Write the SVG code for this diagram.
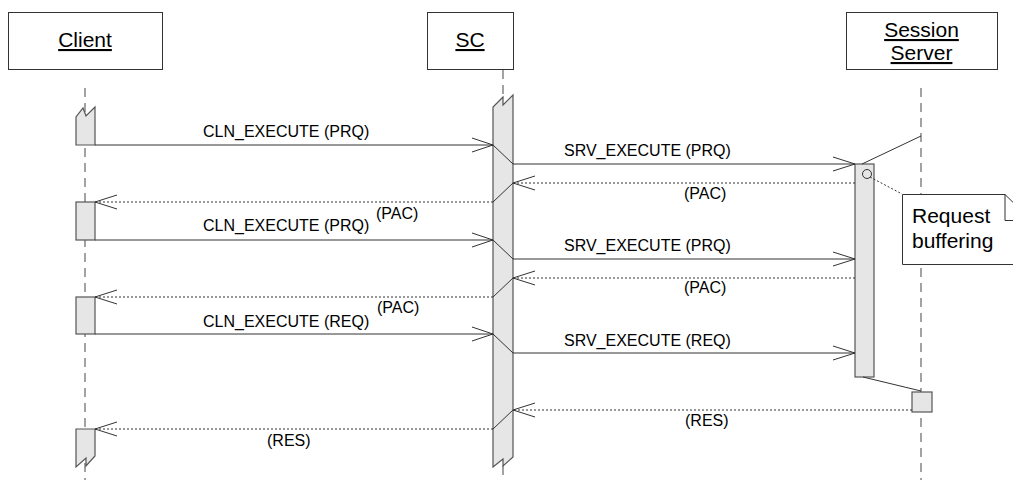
<svg xmlns="http://www.w3.org/2000/svg" width="1013" height="480" viewBox="0 0 1013 480">
<style>
text{font-family:"Liberation Sans",Arial,sans-serif;fill:#000}
.hd{font-size:21px;text-anchor:middle;text-decoration:underline}
.lb{font-size:16px}
.box{fill:#fff;stroke:#333;stroke-width:1}
.life{stroke:#666;stroke-width:1.2;stroke-dasharray:9 6;fill:none}
.act{fill:#e6e6e6;stroke:#555;stroke-width:1.2}
.msg{stroke:#333;stroke-width:1;fill:none}
.ret{stroke:#333;stroke-width:1;stroke-dasharray:2 2;fill:none}
.ah{stroke:#333;stroke-width:1;fill:none}
</style>
<rect width="1013" height="480" fill="#fff"/>
<g id="client">
<rect class="box" x="8.5" y="12.5" width="154" height="57"/>
<text class="hd" x="85" y="47">Client</text>
<line class="life" x1="85" y1="88" x2="85" y2="480"/>
<path class="act" d="M76,145 V117 L83,108 L86,116 L95,107 V145 Z"/>
<rect class="act" x="76" y="202" width="19" height="38"/>
<rect class="act" x="76" y="297" width="19" height="37"/>
<path class="act" d="M76,429 H95 V456 L86,466 L86,458 L76,467 Z"/>
</g>
<g id="sc">
<rect class="box" x="427.5" y="12.5" width="86" height="57"/>
<text class="hd" x="470" y="47">SC</text>
<line class="life" x1="503" y1="70" x2="503" y2="97"/>
<line class="life" x1="503" y1="466" x2="503" y2="480"/>
<path class="act" d="M493,467 V107 L503,97 L503,105 L513,95 V457 L503,466 L503,459 Z"/>
</g>
<g id="session-server">
<rect class="box" x="846.5" y="12.5" width="151" height="57"/>
<text class="hd" x="921.5" y="37">Session</text>
<text class="hd" x="921.5" y="60">Server</text>
<line class="life" x1="921" y1="88" x2="921" y2="480"/>
<rect class="act" x="855" y="164" width="19" height="213"/>
<rect class="act" x="912" y="392" width="20" height="20"/>
<circle cx="867" cy="174" r="4.5" fill="none" stroke="#333" stroke-width="1"/>
</g>
<g id="note">
<line x1="870" y1="177" x2="902" y2="194" stroke="#333" stroke-width="1" stroke-dasharray="2 2"/>
<path d="M902.5,194.5 H1005 L1031,220 V264.5 H902.5 Z" fill="#fff" stroke="#333" stroke-width="1"/>
<path d="M1005,194.5 V220.5 H1031" fill="none" stroke="#333" stroke-width="1"/>
<text x="912" y="223" font-size="21">Request</text>
<text x="912" y="248" font-size="21">buffering</text>
</g>
<g id="connectors">
<!-- round 1 -->
<line class="msg" x1="95" y1="145" x2="493" y2="145"/>
<path class="ah" d="M472,138 L493,145 L472,152"/>
<line class="msg" x1="493" y1="145" x2="513" y2="164"/>
<line class="msg" x1="513" y1="164" x2="855" y2="164"/>
<path class="ah" d="M833,157 L855,164 L833,171"/>
<line class="msg" x1="862" y1="164" x2="921" y2="136"/>
<line class="ret" x1="855" y1="183" x2="513" y2="183"/>
<path class="ah" d="M535,176 L513,183 L535,190"/>
<line class="msg" x1="513" y1="183" x2="493" y2="202"/>
<line class="ret" x1="493" y1="202" x2="95" y2="202"/>
<path class="ah" d="M117,195 L95,202 L117,209"/>
<!-- round 2 -->
<line class="msg" x1="95" y1="240" x2="493" y2="240"/>
<path class="ah" d="M472,233 L493,240 L472,247"/>
<line class="msg" x1="493" y1="240" x2="513" y2="259"/>
<line class="msg" x1="513" y1="259" x2="855" y2="259"/>
<path class="ah" d="M833,252 L855,259 L833,266"/>
<line class="ret" x1="855" y1="278" x2="513" y2="278"/>
<path class="ah" d="M535,271 L513,278 L535,285"/>
<line class="msg" x1="513" y1="278" x2="493" y2="297"/>
<line class="ret" x1="493" y1="297" x2="95" y2="297"/>
<path class="ah" d="M117,290 L95,297 L117,304"/>
<!-- round 3 -->
<line class="msg" x1="95" y1="334" x2="493" y2="334"/>
<path class="ah" d="M472,327 L493,334 L472,341"/>
<line class="msg" x1="493" y1="334" x2="513" y2="353"/>
<line class="msg" x1="513" y1="353" x2="855" y2="353"/>
<path class="ah" d="M833,346 L855,353 L833,360"/>
<line class="msg" x1="863" y1="377" x2="921" y2="391"/>
<line class="ret" x1="912" y1="410" x2="513" y2="410"/>
<path class="ah" d="M535,403 L513,410 L535,417"/>
<line class="msg" x1="513" y1="410" x2="493" y2="429"/>
<line class="ret" x1="493" y1="429" x2="95" y2="429"/>
<path class="ah" d="M117,422 L95,429 L117,436"/>
<!-- labels -->
<text class="lb" x="203" y="137">CLN_EXECUTE (PRQ)</text>
<text class="lb" x="564" y="156">SRV_EXECUTE (PRQ)</text>
<text class="lb" x="684" y="199">(PAC)</text>
<text class="lb" x="376" y="219">(PAC)</text>
<text class="lb" x="203" y="231">CLN_EXECUTE (PRQ)</text>
<text class="lb" x="564" y="251">SRV_EXECUTE (PRQ)</text>
<text class="lb" x="684" y="293">(PAC)</text>
<text class="lb" x="377" y="313">(PAC)</text>
<text class="lb" x="203" y="327">CLN_EXECUTE (REQ)</text>
<text class="lb" x="564" y="346">SRV_EXECUTE (REQ)</text>
<text class="lb" x="685" y="426">(RES)</text>
<text class="lb" x="267" y="446">(RES)</text>
</g>
</svg>
